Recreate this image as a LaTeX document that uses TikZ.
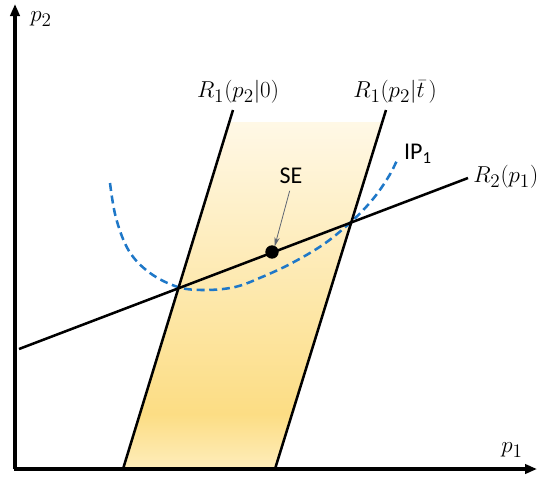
\documentclass[tikz,border=0pt]{standalone}
\usepackage{fontspec}
\newfontfamily\carlitofont{Carlito}
\usetikzlibrary{arrows.meta}
\definecolor{bandtop}{HTML}{FFF8E6}
\definecolor{bandmid}{HTML}{FCDD84}
\definecolor{bandbot}{HTML}{FEEDBB}
\definecolor{ipblue}{HTML}{1F78C8}
\definecolor{segray}{HTML}{5F6673}
\pgfdeclareverticalshading{band}{100bp}{color(0bp)=(bandbot); color(25bp)=(bandbot); color(33bp)=(bandmid); color(75bp)=(bandtop); color(100bp)=(bandtop)}
\tikzset{
  axis/.style={line width=2.3pt, -{Triangle[length=9pt,width=7pt]}},
  blackline/.style={line width=1.9pt},
  mathlbl/.style={inner sep=0pt, font=\fontsize{19}{22}\selectfont},
  sflbl/.style={inner sep=0pt, font=\carlitofont\fontsize{18}{21}\selectfont},
  ipcurve/.style={ipblue, line width=1.9pt, dash pattern=on 6pt off 3.5pt},
  pointer/.style={segray, line width=0.6pt, -{Stealth[length=7pt,width=4pt]}}
}
\begin{document}
\begin{tikzpicture}[x=0.75pt,y=-0.75pt]
\useasboundingbox (0,0) rectangle (538,476);
% shaded band
\shade[shading=band] (229.3,122) -- (382.3,122) -- (275,469) -- (123,469) -- cycle;
% key points
\coordinate (o) at (15,469);
\coordinate (ytop) at (15,4);
\coordinate (xend) at (537,469);
\coordinate (l0top) at (233,110);
\coordinate (l0bot) at (123,469);
\coordinate (ltop) at (386,110);
\coordinate (lbot) at (275,469);
\coordinate (r2a) at (19,349);
\coordinate (r2b) at (468,178);
% IP curve
\draw[ipcurve] plot[smooth, tension=0.6] coordinates {(110,183) (116,218) (129,251) (150,273) (178,287) (205,290) (235,287) (262,277) (292,263) (324,244) (352,221) (373,199) (389,176) (398,158)};
% lines
\draw[blackline] (l0top) -- (l0bot);
\draw[blackline] (ltop) -- (lbot);
\draw[blackline] (r2a) -- (r2b);
% axes
\draw[axis] (o) -- (ytop);
\draw[axis] ([xshift=-1.1pt]o) -- (xend);
% SE dot
\node[circle, fill=black, inner sep=0pt, minimum size=10pt] (se) at (272,252) {};
% labels
\node[mathlbl] (p2) at (41,19) {$p_2$};
\node[mathlbl] (p1) at (512,450) {$p_1$};
\node[mathlbl] (r10) at (238,92) {$R_1(p_2|0)$};
\node[mathlbl] (r1t) at (395,92) {$R_1(p_2|\bar{t}\,)$};
\node[mathlbl, anchor=west] (r2) at (473,177) {$R_2(p_1)$};
\node[sflbl] (ip) at (418,154) {IP\textsubscript{1}};
\node[sflbl] (selbl) at (291,176) {SE};
\draw[pointer] ([xshift=-1pt,yshift=-5pt]selbl.south) -- ([xshift=2pt,yshift=-1pt]se.north);
\end{tikzpicture}
\end{document}
